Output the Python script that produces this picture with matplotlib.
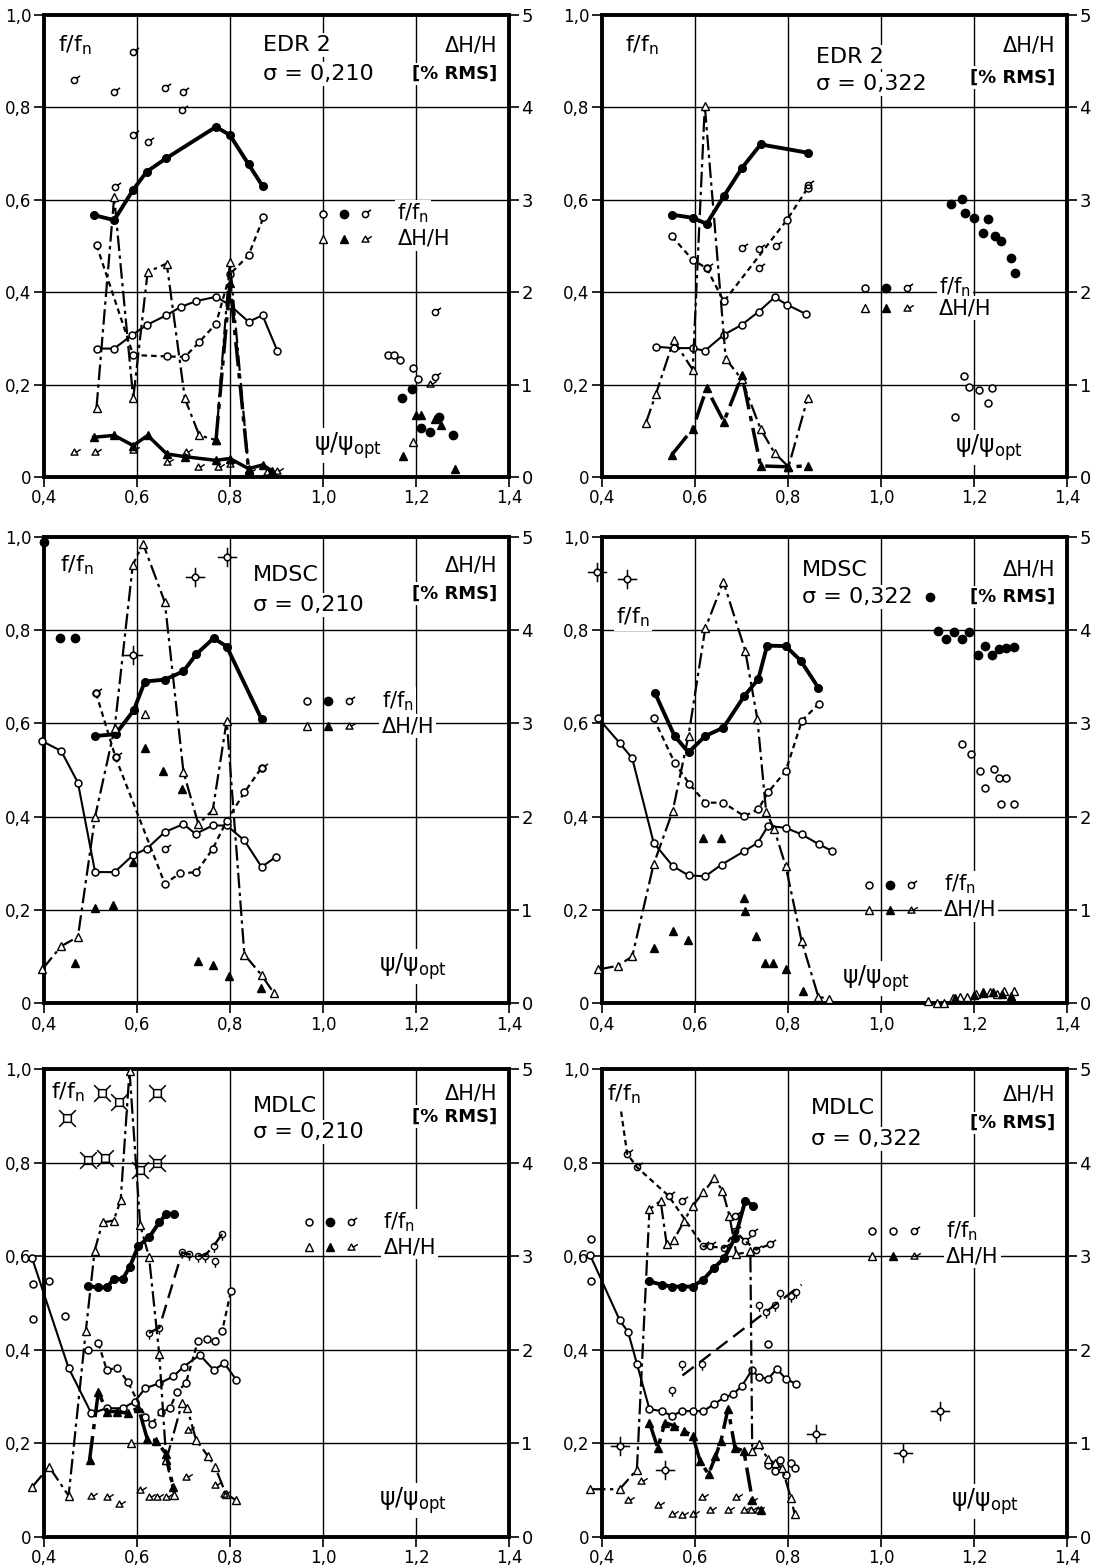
import matplotlib
matplotlib.use('Agg')
import matplotlib.pyplot as plt
from matplotlib.path import Path
from matplotlib.ticker import FixedLocator, FixedFormatter

plt.rcParams['font.family'] = ['DejaVu Sans']
plt.rcParams['mathtext.fontset'] = 'dejavusans'

# ---------- EDR 2, sigma = 0,210 ----------
edr_a_fill_x = [0.507, 0.551, 0.592, 0.621, 0.663, 0.770, 0.800, 0.840, 0.870]
edr_a_fill_y = [0.567, 0.556, 0.622, 0.661, 0.690, 0.758, 0.740, 0.677, 0.630]
edr_a_open_x = [0.513, 0.551, 0.589, 0.621, 0.663, 0.694, 0.728, 0.770, 0.800, 0.840, 0.870, 0.902]
edr_a_open_y = [0.278, 0.278, 0.307, 0.329, 0.350, 0.368, 0.381, 0.390, 0.372, 0.336, 0.350, 0.273]
edr_a_dash_x = [0.513, 0.592, 0.664, 0.703, 0.734, 0.770, 0.800, 0.840, 0.872]
edr_a_dash_y = [0.502, 0.264, 0.261, 0.260, 0.292, 0.332, 0.439, 0.480, 0.562]
edr_a_sig_x = [0.464, 0.551, 0.591, 0.660, 0.698, 0.697, 0.591, 0.623, 0.553, 1.241, 1.240]
edr_a_sig_y = [0.859, 0.834, 0.921, 0.843, 0.834, 0.794, 0.740, 0.726, 0.627, 0.357, 0.217]
edr_a_opts_x = [1.140, 1.153, 1.166, 1.194, 1.205]
edr_a_opts_y = [0.264, 0.264, 0.253, 0.235, 0.213]
edr_a_fpts_x = [1.170, 1.192, 1.211, 1.230, 1.249, 1.279]
edr_a_fpts_y = [0.170, 0.191, 0.105, 0.097, 0.130, 0.090]
edr_a_tri_x = [0.513, 0.551, 0.592, 0.623, 0.664, 0.703, 0.734, 0.770, 0.800, 0.840]
edr_a_tri_h = [0.75, 3.03, 0.85, 2.22, 2.31, 0.85, 0.45, 0.40, 2.33, 0.08]
edr_a_ftri_x = [0.507, 0.551, 0.592, 0.623, 0.664, 0.703, 0.770, 0.800, 0.840, 0.870, 0.890]
edr_a_ftri_h = [0.43, 0.45, 0.34, 0.45, 0.25, 0.22, 0.18, 0.20, 0.09, 0.13, 0.07]
edr_a_ftri2_x = [0.770, 0.800, 0.840]
edr_a_ftri2_h = [0.40, 2.10, 0.08]
edr_a_tail_x = [0.464, 0.509, 0.592, 0.664, 0.706, 0.732, 0.774, 0.800, 0.841, 0.879, 0.902, 1.230]
edr_a_tail_h = [0.27, 0.27, 0.29, 0.16, 0.27, 0.11, 0.11, 0.14, 0.05, 0.05, 0.07, 1.01]
edr_a_ftpts_x = [1.172, 1.200, 1.210, 1.241, 1.253, 1.283]
edr_a_ftpts_h = [0.23, 0.67, 0.67, 0.63, 0.56, 0.09]
edr_a_tpts_x = [1.194]
edr_a_tpts_h = [0.38]

# ---------- EDR 2, sigma = 0,322 ----------
edr_b_fill_x = [0.550, 0.595, 0.625, 0.662, 0.701, 0.741, 0.842]
edr_b_fill_y = [0.568, 0.561, 0.548, 0.608, 0.669, 0.720, 0.702]
edr_b_fpts_x = [1.151, 1.174, 1.181, 1.199, 1.231, 1.220, 1.246, 1.258, 1.279, 1.288]
edr_b_fpts_y = [0.592, 0.601, 0.572, 0.561, 0.559, 0.528, 0.522, 0.510, 0.474, 0.441]
edr_b_opts_x = [1.159, 1.179, 1.190, 1.211, 1.229, 1.239]
edr_b_opts_y = [0.130, 0.219, 0.194, 0.188, 0.161, 0.192]
edr_b_open_x = [0.515, 0.555, 0.595, 0.621, 0.662, 0.700, 0.737, 0.771, 0.798, 0.838]
edr_b_open_y = [0.282, 0.279, 0.279, 0.273, 0.308, 0.329, 0.358, 0.389, 0.373, 0.353]
edr_b_dash_x = [0.550, 0.595, 0.625, 0.662, 0.798, 0.842]
edr_b_dash_y = [0.521, 0.470, 0.452, 0.380, 0.557, 0.625]
edr_b_sig_x = [0.701, 0.737, 0.775, 0.737, 0.625, 0.842]
edr_b_sig_y = [0.496, 0.493, 0.499, 0.452, 0.452, 0.633]
edr_b_tri_x = [0.494, 0.516, 0.554, 0.595, 0.621, 0.666, 0.700, 0.741, 0.771, 0.801, 0.842]
edr_b_tri_h = [0.58, 0.90, 1.48, 1.16, 4.02, 1.28, 1.06, 0.52, 0.26, 0.11, 0.85]
edr_b_ftri_x = [0.550, 0.595, 0.625, 0.662, 0.701, 0.741, 0.801, 0.842]
edr_b_ftri_h = [0.24, 0.52, 0.96, 0.60, 1.10, 0.12, 0.11, 0.12]

# ---------- MDSC, sigma = 0,210 ----------
mdsc_a_fill_x = [0.510, 0.554, 0.593, 0.617, 0.660, 0.700, 0.728, 0.765, 0.793, 0.868]
mdsc_a_fill_y = [0.573, 0.577, 0.628, 0.690, 0.694, 0.712, 0.749, 0.783, 0.765, 0.609]
mdsc_a_fpts_x = [0.400, 0.434, 0.467]
mdsc_a_fpts_y = [0.989, 0.783, 0.783]
mdsc_a_open_x = [0.396, 0.437, 0.473, 0.510, 0.552, 0.591, 0.621, 0.660, 0.700, 0.726,
                 0.763, 0.793, 0.831, 0.868, 0.898]
mdsc_a_open_y = [0.562, 0.541, 0.473, 0.281, 0.281, 0.317, 0.331, 0.367, 0.384, 0.363,
                 0.381, 0.381, 0.349, 0.292, 0.313]
mdsc_a_dash_x = [0.512, 0.554, 0.660, 0.692, 0.728, 0.763, 0.793, 0.831, 0.868]
mdsc_a_dash_y = [0.665, 0.527, 0.256, 0.278, 0.281, 0.331, 0.391, 0.452, 0.505]
mdsc_a_sig_x = [0.512, 0.554, 0.660, 0.868]
mdsc_a_sig_y = [0.665, 0.527, 0.331, 0.505]
mdsc_a_cross_x = [0.591, 0.724, 0.793]
mdsc_a_cross_y = [0.747, 0.915, 0.957]
mdsc_a_tri_x = [0.396, 0.437, 0.473, 0.510, 0.552, 0.591, 0.613, 0.660, 0.700, 0.732,
                0.763, 0.793, 0.831, 0.868, 0.894]
mdsc_a_tri_h = [0.36, 0.61, 0.71, 2.00, 2.95, 4.70, 4.93, 4.30, 2.48, 1.92,
                2.07, 3.03, 0.52, 0.30, 0.11]
mdsc_a_tpts_x = [0.617]
mdsc_a_tpts_h = [3.10]
mdsc_a_ftpts_x = [0.467, 0.510, 0.548, 0.591, 0.617, 0.657, 0.697, 0.732, 0.763, 0.797, 0.867]
mdsc_a_ftpts_h = [0.43, 1.02, 1.05, 1.51, 2.74, 2.49, 2.30, 0.45, 0.41, 0.29, 0.16]

# ---------- MDSC, sigma = 0,322 ----------
mdsc_b_fill_x = [0.514, 0.556, 0.586, 0.622, 0.661, 0.706, 0.736, 0.755, 0.795, 0.827, 0.865]
mdsc_b_fill_y = [0.665, 0.573, 0.538, 0.573, 0.591, 0.659, 0.695, 0.767, 0.766, 0.735, 0.677]
mdsc_b_fpts_x = [1.105, 1.123, 1.140, 1.158, 1.174, 1.189, 1.208, 1.223, 1.238, 1.253, 1.268, 1.286]
mdsc_b_fpts_y = [0.871, 0.799, 0.781, 0.797, 0.781, 0.796, 0.746, 0.767, 0.746, 0.760, 0.761, 0.763]
mdsc_b_opts_x = [1.174, 1.193, 1.212, 1.223, 1.242, 1.253, 1.268, 1.257, 1.286]
mdsc_b_opts_y = [0.556, 0.534, 0.498, 0.462, 0.502, 0.484, 0.484, 0.428, 0.427]
mdsc_b_open_x = [0.392, 0.438, 0.465, 0.511, 0.552, 0.586, 0.622, 0.657, 0.706, 0.735,
                 0.757, 0.795, 0.829, 0.866, 0.895]
mdsc_b_open_y = [0.611, 0.558, 0.525, 0.344, 0.294, 0.274, 0.272, 0.297, 0.326, 0.344,
                 0.380, 0.376, 0.362, 0.341, 0.326]
mdsc_b_dash_x = [0.511, 0.556, 0.588, 0.622, 0.661, 0.706, 0.736, 0.757, 0.795, 0.830, 0.866]
mdsc_b_dash_y = [0.611, 0.516, 0.470, 0.430, 0.430, 0.401, 0.416, 0.452, 0.498, 0.606, 0.642]
mdsc_b_cross_x = [0.389, 0.453]
mdsc_b_cross_y = [0.926, 0.910]
mdsc_b_tri_x = [0.392, 0.434, 0.465, 0.511, 0.552, 0.586, 0.622, 0.661, 0.708, 0.734,
                0.753, 0.770, 0.795, 0.829, 0.865, 0.889]
mdsc_b_tri_h = [0.36, 0.40, 0.50, 1.49, 2.06, 2.87, 4.02, 4.52, 3.78, 3.05,
                2.05, 1.87, 1.47, 0.67, 0.07, 0.04]
mdsc_b_tpts_x = [1.100, 1.120, 1.135, 1.155, 1.170, 1.185, 1.205, 1.220, 1.235, 1.250, 1.265, 1.285]
mdsc_b_tpts_h = [0.02, 0.00, 0.00, 0.05, 0.07, 0.07, 0.10, 0.11, 0.12, 0.10, 0.13, 0.13]
mdsc_b_ftpts_x = [0.512, 0.552, 0.584, 0.617, 0.656, 0.705, 0.707, 0.732, 0.750, 0.768, 0.795,
                  0.833, 1.160, 1.200, 1.220, 1.240, 1.260, 1.280]
mdsc_b_ftpts_h = [0.59, 0.77, 0.68, 1.77, 1.77, 1.13, 0.99, 0.72, 0.43, 0.43, 0.36,
                  0.13, 0.05, 0.09, 0.12, 0.12, 0.10, 0.08]

# ---------- MDLC, sigma = 0,210 ----------
mdlc_a_fill_x = [0.494, 0.517, 0.535, 0.550, 0.569, 0.584, 0.603, 0.626, 0.648, 0.663, 0.680]
mdlc_a_fill_y = [0.536, 0.533, 0.533, 0.551, 0.551, 0.576, 0.622, 0.640, 0.672, 0.690, 0.690]
mdlc_a_open_x = [0.374, 0.453, 0.502, 0.535, 0.569, 0.595, 0.618, 0.648, 0.678, 0.701,
                 0.735, 0.765, 0.788, 0.814]
mdlc_a_open_y = [0.597, 0.361, 0.264, 0.275, 0.275, 0.289, 0.318, 0.328, 0.343, 0.364,
                 0.389, 0.357, 0.371, 0.335]
mdlc_a_opts_x = [0.376, 0.376, 0.410, 0.445, 0.494]
mdlc_a_opts_y = [0.541, 0.465, 0.547, 0.472, 0.400]
mdlc_a_dash_x = [0.517, 0.535, 0.558, 0.580, 0.618, 0.632, 0.652, 0.671, 0.686, 0.705,
                 0.731, 0.750, 0.768, 0.783, 0.802]
mdlc_a_dash_y = [0.414, 0.357, 0.361, 0.332, 0.257, 0.242, 0.267, 0.275, 0.310, 0.328,
                 0.418, 0.422, 0.418, 0.439, 0.525]
mdlc_a_drop_x = [0.626, 0.648, 0.697, 0.712, 0.731, 0.746, 0.765, 0.783]
mdlc_a_drop_y = [0.436, 0.447, 0.608, 0.604, 0.601, 0.601, 0.622, 0.647]
mdlc_a_dpts_x = [0.768]
mdlc_a_dpts_y = [0.590]
mdlc_a_quad_x = [0.449, 0.524, 0.562, 0.644, 0.494, 0.532, 0.607, 0.644]
mdlc_a_quad_y = [0.895, 0.948, 0.930, 0.948, 0.805, 0.809, 0.784, 0.798]
mdlc_a_tri_x = [0.374, 0.411, 0.453, 0.490, 0.509, 0.526, 0.550, 0.565, 0.584, 0.607,
                0.626, 0.648, 0.663, 0.680]
mdlc_a_tri_h = [0.53, 0.75, 0.44, 2.20, 3.06, 3.36, 3.38, 3.60, 4.98, 3.33,
                2.99, 1.95, 0.82, 0.45]
mdlc_a_tri2_x = [0.663, 0.697, 0.708, 0.727, 0.753, 0.768, 0.791, 0.814]
mdlc_a_tri2_h = [0.82, 1.43, 1.38, 1.04, 0.86, 0.75, 0.46, 0.39]
mdlc_a_ftri_x = [0.498, 0.517, 0.535, 0.558, 0.580, 0.603, 0.622, 0.641, 0.662, 0.678]
mdlc_a_ftri_h = [0.82, 1.55, 1.34, 1.34, 1.32, 1.38, 1.05, 1.03, 0.89, 0.53]
mdlc_a_tail_x = [0.501, 0.535, 0.562, 0.607, 0.626, 0.644, 0.663, 0.705, 0.709, 0.768, 0.788]
mdlc_a_tail_h = [0.44, 0.43, 0.35, 0.50, 0.43, 0.43, 0.43, 0.64, 1.14, 0.55, 0.46]
mdlc_a_tpts_x = [0.588]
mdlc_a_tpts_h = [1.00]

# ---------- MDLC, sigma = 0,322 ----------
mdlc_b_fill_x = [0.502, 0.528, 0.550, 0.573, 0.595, 0.618, 0.641, 0.663, 0.686, 0.708, 0.725]
mdlc_b_fill_y = [0.546, 0.539, 0.535, 0.535, 0.535, 0.550, 0.575, 0.596, 0.639, 0.718, 0.708]
mdlc_b_open_x = [0.374, 0.438, 0.456, 0.475, 0.502, 0.528, 0.550, 0.573, 0.595, 0.618,
                 0.641, 0.663, 0.682, 0.701, 0.722, 0.738, 0.757, 0.776, 0.795, 0.817]
mdlc_b_open_y = [0.603, 0.463, 0.438, 0.370, 0.273, 0.269, 0.259, 0.269, 0.269, 0.269,
                 0.284, 0.298, 0.305, 0.323, 0.356, 0.341, 0.338, 0.359, 0.338, 0.327]
mdlc_b_opts_x = [0.377, 0.376, 0.757, 0.772, 0.783, 0.795, 0.806, 0.814, 0.757]
mdlc_b_opts_y = [0.636, 0.546, 0.154, 0.140, 0.165, 0.133, 0.158, 0.147, 0.413]
mdlc_b_sdash_x = [0.441, 0.454, 0.475, 0.543, 0.618, 0.663, 0.686, 0.708, 0.731, 0.761]
mdlc_b_sdash_y = [0.909, 0.819, 0.790, 0.729, 0.621, 0.618, 0.654, 0.632, 0.614, 0.625]
mdlc_b_sig_x = [0.573, 0.686, 0.633, 0.723]
mdlc_b_sig_y = [0.718, 0.686, 0.621, 0.650]
mdlc_b_drop_x = [0.573, 0.829]
mdlc_b_drop_y = [0.345, 0.539]
mdlc_b_dpts_x = [0.573, 0.614, 0.738, 0.753, 0.771, 0.783, 0.806, 0.817, 0.550]
mdlc_b_dpts_y = [0.370, 0.370, 0.496, 0.481, 0.496, 0.521, 0.514, 0.524, 0.313]
mdlc_b_cross_x = [0.438, 0.535, 0.860, 1.048, 1.126]
mdlc_b_cross_y = [0.194, 0.144, 0.219, 0.180, 0.269]
mdlc_b_tri_x = [0.374, 0.438, 0.475, 0.502, 0.526, 0.539, 0.554, 0.577, 0.595, 0.618,
                0.641, 0.659, 0.674, 0.689, 0.719, 0.723, 0.738, 0.757, 0.772, 0.787,
                0.806, 0.814]
mdlc_b_tri_h = [0.51, 0.51, 0.72, 3.50, 3.59, 3.13, 3.17, 3.38, 3.54, 3.68,
                3.83, 3.70, 3.43, 3.02, 3.05, 0.92, 0.99, 0.83, 0.79, 0.74,
                0.42, 0.25]
mdlc_b_ftri_x = [0.502, 0.520, 0.535, 0.554, 0.577, 0.595, 0.611, 0.629, 0.644, 0.656,
                 0.671, 0.686, 0.705, 0.723, 0.742]
mdlc_b_ftri_h = [1.22, 0.95, 1.22, 1.19, 1.13, 1.08, 0.81, 0.67, 0.86, 1.03,
                 1.37, 0.95, 0.92, 0.40, 0.29]
mdlc_b_tail_x = [0.456, 0.484, 0.520, 0.550, 0.573, 0.595, 0.614, 0.633, 0.671, 0.689,
                 0.705, 0.720, 0.720, 0.735]
mdlc_b_tail_h = [0.40, 0.60, 0.34, 0.24, 0.23, 0.25, 0.43, 0.29, 0.29, 0.43,
                 0.29, 0.29, 0.38, 0.29]

x_ticks = [0.4, 0.6, 0.8, 1.0, 1.2, 1.4]
x_labels = ['0,4', '0,6', '0,8', '1,0', '1,2', '1,4']
y_ticks = [0, 0.2, 0.4, 0.6, 0.8, 1.0]
y_labels = ['0', '0,2', '0,4', '0,6', '0,8', '1,0']
h_ticks = [0, 1, 2, 3, 4, 5]
h_labels = ['0', '1', '2', '3', '4', '5']


# ---- marker shapes ----
def seg(a, b):
    return Path([a, b], [Path.MOVETO, Path.LINETO])


CIRC = Path.unit_circle()
TRI = Path([(-1, -0.75), (1, -0.75), (0, 1.0), (-1, -0.75)],
           [Path.MOVETO, Path.LINETO, Path.LINETO, Path.CLOSEPOLY])
SIG = Path.make_compound_path(CIRC, seg((0.7, 0.7), (1.8, 1.5)))
TAIL = Path.make_compound_path(TRI, seg((0.4, 0.0), (1.8, 0.9)))
CROSS = Path.make_compound_path(Path.circle((0, 0), 0.6),
                                seg((0, 0.6), (0, 1.8)), seg((0, -0.6), (0, -1.8)),
                                seg((0.6, 0), (1.8, 0)), seg((-0.6, 0), (-1.8, 0)))
SQ = Path([(-0.6, -0.6), (0.6, -0.6), (0.6, 0.6), (-0.6, 0.6), (-0.6, -0.6)],
          [Path.MOVETO, Path.LINETO, Path.LINETO, Path.LINETO, Path.CLOSEPOLY])
QUAD = Path.make_compound_path(SQ, seg((0.6, 0.6), (1.3, 1.3)), seg((-0.6, 0.6), (-1.3, 1.3)),
                               seg((0.6, -0.6), (1.3, -1.3)), seg((-0.6, -0.6), (-1.3, -1.3)))
DROP = Path.make_compound_path(CIRC, seg((0, -1), (0, -2)))

DASHDOT = (0, (7, 2, 1.5, 2))
K = 'black'
STYLE = {
    'fill_line': dict(lw=2.8, ls='-', marker='o', ms=5.5, mfc=K),
    'open_line': dict(lw=1.5, ls='-', marker='o', ms=5, mfc='white', mew=1.1),
    'open_dash': dict(lw=1.6, ls=(0, (2.5, 1.8)), marker='o', ms=5, mfc='white', mew=1.1),
    'sig_dash': dict(lw=1.6, ls=(0, (2.5, 1.8)), marker='None'),
    'drop_dash': dict(lw=1.7, ls=(0, (6, 3)), marker='None'),
    'drop_line': dict(lw=1.7, ls=(0, (6, 3)), marker=DROP, ms=9, mfc='none', mew=1.0),
    'tri_dashdot': dict(lw=1.6, ls=DASHDOT, marker='^', ms=5.5, mfc='white', mew=1.0),
    'ftri_dashdot': dict(lw=2.5, ls=DASHDOT, marker='^', ms=5.5, mfc=K),
    'ftri_line': dict(lw=2.5, ls='-', marker='^', ms=5.5, mfc=K),
    'fill_pts': dict(ls='None', marker='o', ms=6, mfc=K),
    'open_pts': dict(ls='None', marker='o', ms=5, mfc='white', mew=1.1),
    'sig_pts': dict(ls='None', marker=SIG, ms=8, mfc='none', mew=1.1),
    'tri_pts': dict(ls='None', marker='^', ms=5.5, mfc='white', mew=1.0),
    'ftri_pts': dict(ls='None', marker='^', ms=6, mfc=K),
    'tail_pts': dict(ls='None', marker=TAIL, ms=9, mfc='none', mew=1.0),
    'cross_pts': dict(ls='None', marker=CROSS, ms=14, mfc='none', mew=1.1),
    'quad_pts': dict(ls='None', marker=QUAD, ms=12, mfc='none', mew=1.1),
    'drop_pts': dict(ls='None', marker=DROP, ms=9, mfc='none', mew=1.0),
}

# each panel: name, sigma, f/fn series (left axis), dH/H series (right axis), text layout
panels = [
    dict(name='EDR 2', sigma='σ = 0,210', legend_mid='fill_pts',
         f=[(edr_a_fill_x, edr_a_fill_y, 'fill_line'), (edr_a_open_x, edr_a_open_y, 'open_line'),
            (edr_a_dash_x, edr_a_dash_y, 'open_dash'), (edr_a_sig_x, edr_a_sig_y, 'sig_pts'),
            (edr_a_opts_x, edr_a_opts_y, 'open_pts'), (edr_a_fpts_x, edr_a_fpts_y, 'fill_pts')],
         h=[(edr_a_tri_x, edr_a_tri_h, 'tri_dashdot'), (edr_a_ftri_x, edr_a_ftri_h, 'ftri_line'),
            (edr_a_ftri2_x, edr_a_ftri2_h, 'ftri_dashdot'), (edr_a_tail_x, edr_a_tail_h, 'tail_pts'),
            (edr_a_ftpts_x, edr_a_ftpts_h, 'ftri_pts'), (edr_a_tpts_x, edr_a_tpts_h, 'tri_pts')],
         ff=(0.03, 0.935), title=(0.47, 0.935, 0.872), unit=(0.935, 0.872),
         legend=(0.60, 0.57, 0.516), psi=(0.58, 0.035)),
    dict(name='EDR 2', sigma='σ = 0,322', legend_mid='fill_pts',
         f=[(edr_b_fill_x, edr_b_fill_y, 'fill_line'), (edr_b_open_x, edr_b_open_y, 'open_line'),
            (edr_b_dash_x, edr_b_dash_y, 'open_dash'), (edr_b_sig_x, edr_b_sig_y, 'sig_pts'),
            (edr_b_opts_x, edr_b_opts_y, 'open_pts'), (edr_b_fpts_x, edr_b_fpts_y, 'fill_pts')],
         h=[(edr_b_tri_x, edr_b_tri_h, 'tri_dashdot'), (edr_b_ftri_x, edr_b_ftri_h, 'ftri_dashdot')],
         ff=(0.05, 0.935), title=(0.46, 0.91, 0.85), unit=(0.935, 0.865),
         legend=(0.565, 0.41, 0.365), psi=(0.76, 0.03)),
    dict(name='MDSC', sigma='σ = 0,210', legend_mid='fill_pts',
         f=[(mdsc_a_fill_x, mdsc_a_fill_y, 'fill_line'), (mdsc_a_open_x, mdsc_a_open_y, 'open_line'),
            (mdsc_a_dash_x, mdsc_a_dash_y, 'open_dash'), (mdsc_a_sig_x, mdsc_a_sig_y, 'sig_pts'),
            (mdsc_a_fpts_x, mdsc_a_fpts_y, 'fill_pts'), (mdsc_a_cross_x, mdsc_a_cross_y, 'cross_pts')],
         h=[(mdsc_a_tri_x, mdsc_a_tri_h, 'tri_dashdot'), (mdsc_a_tpts_x, mdsc_a_tpts_h, 'tri_pts'),
            (mdsc_a_ftpts_x, mdsc_a_ftpts_h, 'ftri_pts')],
         ff=(0.035, 0.94), title=(0.45, 0.918, 0.854), unit=(0.94, 0.879),
         legend=(0.566, 0.648, 0.594), psi=(0.72, 0.046)),
    dict(name='MDSC', sigma='σ = 0,322', legend_mid='fill_pts',
         f=[(mdsc_b_fill_x, mdsc_b_fill_y, 'fill_line'), (mdsc_b_open_x, mdsc_b_open_y, 'open_line'),
            (mdsc_b_dash_x, mdsc_b_dash_y, 'open_dash'), (mdsc_b_fpts_x, mdsc_b_fpts_y, 'fill_pts'),
            (mdsc_b_opts_x, mdsc_b_opts_y, 'open_pts'), (mdsc_b_cross_x, mdsc_b_cross_y, 'cross_pts')],
         h=[(mdsc_b_tri_x, mdsc_b_tri_h, 'tri_dashdot'), (mdsc_b_tpts_x, mdsc_b_tpts_h, 'tri_pts'),
            (mdsc_b_ftpts_x, mdsc_b_ftpts_h, 'ftri_pts')],
         ff=(0.03, 0.828), title=(0.43, 0.93, 0.871), unit=(0.93, 0.871),
         legend=(0.575, 0.254, 0.200), psi=(0.515, 0.02)),
    dict(name='MDLC', sigma='σ = 0,210', legend_mid='fill_pts',
         f=[(mdlc_a_fill_x, mdlc_a_fill_y, 'fill_line'), (mdlc_a_open_x, mdlc_a_open_y, 'open_line'),
            (mdlc_a_opts_x, mdlc_a_opts_y, 'open_pts'), (mdlc_a_dash_x, mdlc_a_dash_y, 'open_dash'),
            (mdlc_a_drop_x, mdlc_a_drop_y, 'drop_line'), (mdlc_a_dpts_x, mdlc_a_dpts_y, 'drop_pts'),
            (mdlc_a_quad_x, mdlc_a_quad_y, 'quad_pts')],
         h=[(mdlc_a_tri_x, mdlc_a_tri_h, 'tri_dashdot'), (mdlc_a_tri2_x, mdlc_a_tri2_h, 'tri_dashdot'),
            (mdlc_a_ftri_x, mdlc_a_ftri_h, 'ftri_dashdot'), (mdlc_a_tail_x, mdlc_a_tail_h, 'tail_pts'),
            (mdlc_a_tpts_x, mdlc_a_tpts_h, 'tri_pts')],
         ff=(0.015, 0.95), title=(0.45, 0.92, 0.866), unit=(0.948, 0.898),
         legend=(0.57, 0.672, 0.619), psi=(0.72, 0.045)),
    dict(name='MDLC', sigma='σ = 0,322', legend_mid='open_pts',
         f=[(mdlc_b_fill_x, mdlc_b_fill_y, 'fill_line'), (mdlc_b_open_x, mdlc_b_open_y, 'open_line'),
            (mdlc_b_opts_x, mdlc_b_opts_y, 'open_pts'), (mdlc_b_sdash_x, mdlc_b_sdash_y, 'sig_dash'),
            (mdlc_b_sig_x, mdlc_b_sig_y, 'sig_pts'), (mdlc_b_sdash_x[1:], mdlc_b_sdash_y[1:], 'sig_pts'),
            (mdlc_b_drop_x, mdlc_b_drop_y, 'drop_dash'), (mdlc_b_dpts_x, mdlc_b_dpts_y, 'drop_pts'),
            (mdlc_b_cross_x, mdlc_b_cross_y, 'cross_pts')],
         h=[(mdlc_b_tri_x, mdlc_b_tri_h, 'tri_dashdot'), (mdlc_b_ftri_x, mdlc_b_ftri_h, 'ftri_dashdot'),
            (mdlc_b_tail_x, mdlc_b_tail_h, 'tail_pts')],
         ff=(0.01, 0.945), title=(0.45, 0.916, 0.851), unit=(0.945, 0.885),
         legend=(0.58, 0.654, 0.600), psi=(0.75, 0.043)),
]

# axes boxes in figure fractions (left, bottom, width, height)
col_left = [0.0400, 0.5478]
row_box = [(0.6958, 0.2946), (0.3603, 0.2972), (0.0198, 0.2985)]
width = 0.4231

fig = plt.figure(figsize=(10.99, 15.68), dpi=100)
fig.patch.set_facecolor('white')
WB = dict(facecolor='white', edgecolor='none', pad=1.5)

for i, p in enumerate(panels):
    bottom, height = row_box[i // 2]
    ax = fig.add_axes([col_left[i % 2], bottom, width, height])
    ax2 = ax.twinx()
    ax.set_xlim(0.4, 1.4)
    ax.set_ylim(0, 1.0)
    ax2.set_ylim(0, 5)

    ax.xaxis.set_major_locator(FixedLocator(x_ticks))
    ax.xaxis.set_major_formatter(FixedFormatter(x_labels))
    ax.yaxis.set_major_locator(FixedLocator(y_ticks))
    ax.yaxis.set_major_formatter(FixedFormatter(y_labels))
    ax2.yaxis.set_major_locator(FixedLocator(h_ticks))
    ax2.yaxis.set_major_formatter(FixedFormatter(h_labels))
    ax.tick_params(direction='out', length=7, width=1.2, labelsize=12, pad=2, color=K)
    ax2.tick_params(direction='out', length=7, width=1.2, labelsize=13, pad=2, color=K)
    ax.grid(True, color=K, lw=1.0)

    for s in ['left', 'bottom', 'top']:
        ax.spines[s].set_linewidth(2.8)
    ax.spines['right'].set_visible(False)
    for s in ['left', 'bottom', 'top']:
        ax2.spines[s].set_visible(False)
    ax2.spines['right'].set_linewidth(2.8)

    for x, y, kind in p['f']:
        ax.plot(x, y, color=K, mec=K, clip_on=False, zorder=4, **STYLE[kind])
    for x, h, kind in p['h']:
        ax2.plot(x, h, color=K, mec=K, clip_on=False, zorder=4, **STYLE[kind])

    tx, ty1, ty2 = p['title']
    ax.text(tx, ty1, p['name'], transform=ax.transAxes, fontsize=16,
            ha='left', va='center', bbox=WB, zorder=3)
    ax.text(tx, ty2, p['sigma'], transform=ax.transAxes, fontsize=16,
            ha='left', va='center', bbox=WB, zorder=3)
    ax.text(p['ff'][0], p['ff'][1], r'f/f$_{\rm n}$', transform=ax.transAxes,
            fontsize=16, ha='left', va='center', bbox=WB, zorder=3)
    ax.text(0.975, p['unit'][0], 'ΔH/H', transform=ax.transAxes, fontsize=15,
            ha='right', va='center', bbox=WB, zorder=3)
    ax.text(0.975, p['unit'][1], '[% RMS]', transform=ax.transAxes, fontsize=13,
            fontweight='bold', ha='right', va='center', bbox=WB, zorder=3)
    ax.text(p['psi'][0], p['psi'][1], r'ψ/ψ$_{\rm opt}$', transform=ax.transAxes,
            fontsize=17, ha='left', va='bottom', bbox=WB, zorder=3)

    # in-panel key
    lx, ly1, ly2 = p['legend']
    for k, kind in enumerate(['open_pts', p['legend_mid'], 'sig_pts']):
        ax.plot([lx + 0.045 * k], [ly1], transform=ax.transAxes, color=K, mec=K,
                clip_on=False, zorder=5, **STYLE[kind])
    for k, kind in enumerate(['tri_pts', 'ftri_pts', 'tail_pts']):
        ax.plot([lx + 0.045 * k], [ly2], transform=ax.transAxes, color=K, mec=K,
                clip_on=False, zorder=5, **STYLE[kind])
    ax.text(lx + 0.16, ly1, r'f/f$_{\rm n}$', transform=ax.transAxes, fontsize=15,
            ha='left', va='center', bbox=WB, zorder=3)
    ax.text(lx + 0.16, ly2, 'ΔH/H', transform=ax.transAxes, fontsize=15,
            ha='left', va='center', bbox=WB, zorder=3)

fig.savefig('out.png', dpi=100, facecolor='white')
